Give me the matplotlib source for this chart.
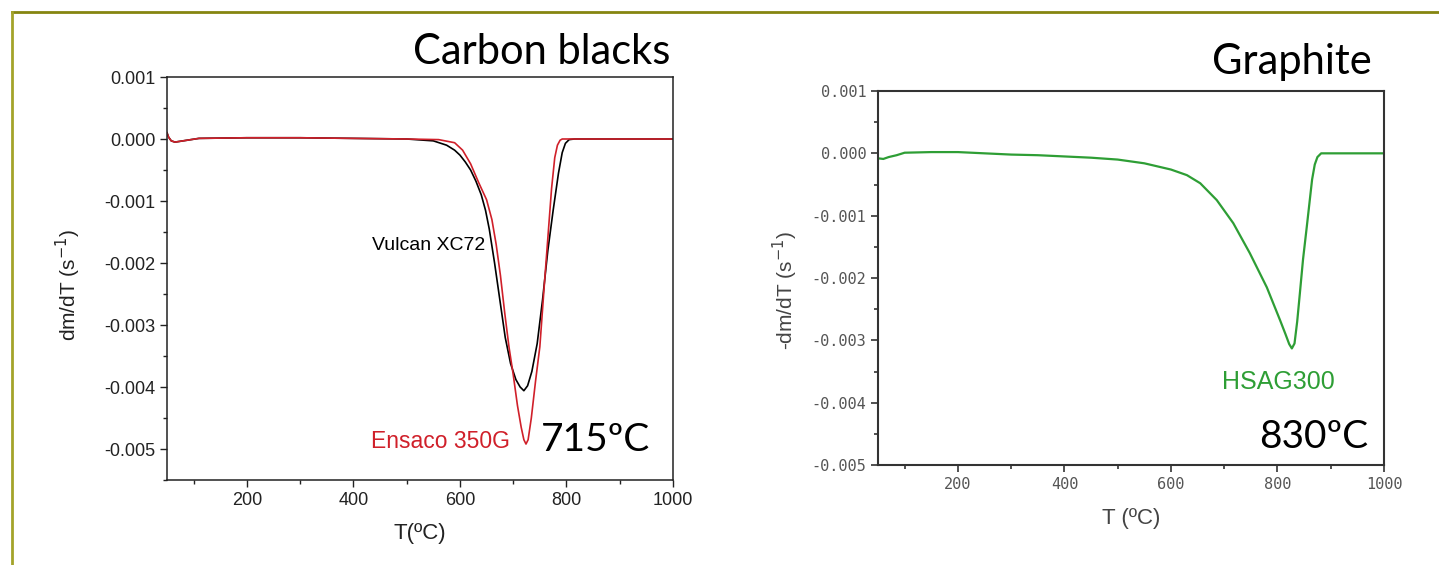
import matplotlib
matplotlib.use("Agg")
import matplotlib.pyplot as plt
from matplotlib.lines import Line2D
from matplotlib.ticker import MultipleLocator

# carbon blacks, Vulcan XC72 (black curve)
vulcan_t = [50, 53, 58, 65, 80, 110, 200, 300, 400, 500, 550, 575, 590, 600, 610, 620, 630, 640,
            648, 655, 665, 675, 685, 695, 705, 713, 720, 727, 735, 745, 755, 765, 775, 785, 792,
            798, 805, 815, 900, 1000]
vulcan_v = [0.0001, 0.00003, -0.00003, -0.00005, -0.00003, 0.00001, 0.00002, 0.00002, 0.00001, 0.0,
            -0.00003, -0.0001, -0.00018, -0.00026, -0.00037, -0.0005, -0.00068, -0.0009, -0.00115,
            -0.00145, -0.002, -0.0026, -0.0032, -0.00362, -0.00388, -0.004, -0.00406, -0.00398,
            -0.00375, -0.0033, -0.0026, -0.0018, -0.00115, -0.00055, -0.00022, -0.00007, -0.00001,
            0.0, 0.0, 0.0]

# carbon blacks, Ensaco 350G (red curve)
ensaco_t = [50, 53, 58, 65, 80, 110, 200, 300, 400, 500, 560, 590, 605, 620, 635, 650, 660, 668,
            676, 684, 692, 700, 708, 715, 720, 724, 728, 734, 742, 750, 758, 765, 772, 778, 783,
            788, 792, 850, 1000]
ensaco_v = [0.0001, 0.00003, -0.00003, -0.00005, -0.00003, 0.00001, 0.00002, 0.00002, 0.00001, 0.0,
            -0.00001, -0.00006, -0.00018, -0.0004, -0.0007, -0.00098, -0.0013, -0.0017, -0.0022,
            -0.0028, -0.00335, -0.0038, -0.0043, -0.00465, -0.00485, -0.00492, -0.00485, -0.0045,
            -0.0039, -0.00335, -0.0024, -0.0016, -0.0008, -0.0003, -0.0001, -0.00002, 0.0, 0.0, 0.0]

# graphite, HSAG300 (green curve)
hsag_t = [50, 60, 70, 85, 100, 150, 200, 250, 300, 350, 400, 450, 500, 550, 600, 630, 655, 686,
          717, 748, 780, 805, 815, 822, 827, 832, 837, 842, 848, 855, 860, 865, 870, 875, 882, 1000]
hsag_v = [-0.00008, -0.00009, -0.00006, -0.00003, 0.00001, 0.00002, 0.00002, 0.0, -0.00002, -0.00003,
          -0.00005, -0.00007, -0.0001, -0.00016, -0.00026, -0.00035, -0.00048, -0.00075, -0.00112,
          -0.0016, -0.00215, -0.00268, -0.0029, -0.00306, -0.00313, -0.00305, -0.0027, -0.00225,
          -0.0017, -0.00118, -0.0008, -0.00042, -0.00018, -0.00006, 0.0, 0.0]

W, H = 1439, 565
fig = plt.figure(figsize=(W / 100, H / 100), dpi=100)
fig.patch.set_facecolor("white")

def px(x, y):
    return x / W, 1 - y / H

red = "#d0202a"
green = "#2e9e35"
title_font = "Lato"

# ---- left panel ----
ax1 = fig.add_axes([167 / W, 1 - 480 / H, 506 / W, 403 / H])
ax1.plot(vulcan_t, vulcan_v, color="black", lw=1.2)
ax1.plot(ensaco_t, ensaco_v, color=red, lw=1.2)
ax1.set_xlim(50, 1000)
ax1.set_ylim(-0.0055, 0.001)
ax1.set_xticks([200, 400, 600, 800, 1000])
ax1.set_yticks([0.001, 0.0, -0.001, -0.002, -0.003, -0.004, -0.005])
ax1.set_yticklabels(["0.001", "0.000", "-0.001", "-0.002", "-0.003", "-0.004", "-0.005"])
ax1.xaxis.set_minor_locator(MultipleLocator(100))
ax1.yaxis.set_minor_locator(MultipleLocator(0.0005))
ax1.tick_params(which="major", length=5, width=1, color="#222222", labelsize=13,
                labelcolor="#222222", labelfontfamily="Liberation Sans")
ax1.tick_params(which="minor", length=3, width=1, color="#222222")
for s in ax1.spines.values():
    s.set_linewidth(1.1)
    s.set_color("#222222")
ax1.set_xlabel("T(ºC)", fontsize=16, family="Liberation Sans", color="#222222", labelpad=10)

fig.text(*px(68, 285), "dm/dT (s$^{-1}$)", rotation=90, ha="center", va="center",
         fontsize=15, family="Liberation Sans", color="#222222")
fig.text(*px(485, 245), "Vulcan XC72", ha="right", va="center", fontsize=14,
         family="Liberation Sans", color="black")
fig.text(*px(510, 441), "Ensaco 350G", ha="right", va="center", fontsize=16.5,
         family="Liberation Sans", color=red)
fig.text(*px(670, 52), "Carbon blacks", ha="right", va="center", fontsize=30,
         family=title_font, color="black")
fig.text(*px(650, 440), "715ºC", ha="right", va="center", fontsize=28,
         family=title_font, color="black")

# ---- right panel ----
ax2 = fig.add_axes([878 / W, 1 - 465 / H, 506 / W, 374 / H])
ax2.plot(hsag_t, hsag_v, color=green, lw=1.6)
ax2.set_xlim(50, 1000)
ax2.set_ylim(-0.005, 0.001)
ax2.set_xticks([200, 400, 600, 800, 1000])
ax2.set_yticks([0.001, 0.0, -0.001, -0.002, -0.003, -0.004, -0.005])
ax2.set_yticklabels(["0.001", "0.000", "-0.001", "-0.002", "-0.003", "-0.004", "-0.005"])
ax2.xaxis.set_minor_locator(MultipleLocator(100))
ax2.yaxis.set_minor_locator(MultipleLocator(0.0005))
ax2.tick_params(which="major", length=5, width=1.2, color="#333333", labelsize=11,
                labelcolor="#555555", labelfontfamily="DejaVu Sans Mono")
ax2.tick_params(which="minor", length=3, width=1.2, color="#333333")
for s in ax2.spines.values():
    s.set_linewidth(1.5)
    s.set_color("#333333")
ax2.set_xlabel("T (ºC)", fontsize=16, family="Liberation Sans", color="#444444", labelpad=12)

fig.text(*px(785, 290), "-dm/dT (s$^{-1}$)", rotation=90, ha="center", va="center",
         fontsize=15, family="Liberation Sans", color="#444444")
fig.text(*px(1335, 382), "HSAG300", ha="right", va="center", fontsize=18,
         family="Liberation Sans", color=green)
fig.text(*px(1372, 62), "Graphite", ha="right", va="center", fontsize=30,
         family=title_font, color="black")
fig.text(*px(1368, 437), "830ºC", ha="right", va="center", fontsize=28,
         family=title_font, color="black")

# olive frame around the slide
fig.add_artist(Line2D([12 / W, 1], [1 - 12 / H, 1 - 12 / H], color="#858510", lw=2))
fig.add_artist(Line2D([12 / W, 12 / W], [0, 1 - 12 / H], color="#a3a32a", lw=2))

fig.savefig("out.png", dpi=100)
